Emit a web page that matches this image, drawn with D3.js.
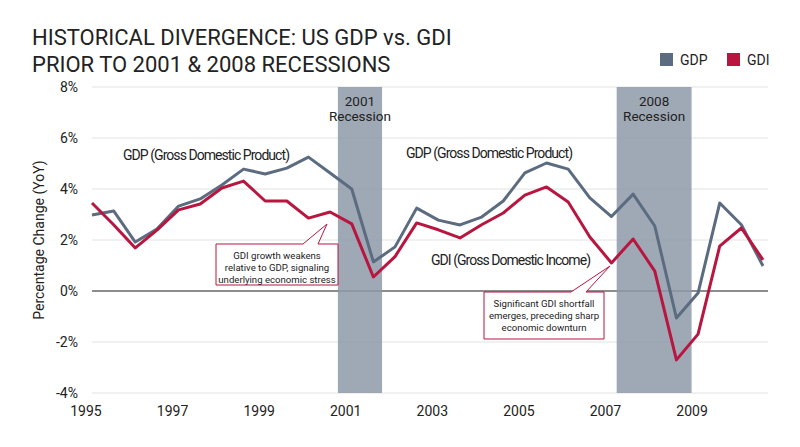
<!DOCTYPE html>
<html><head><meta charset="utf-8">
<script src="https://cdn.jsdelivr.net/npm/d3@7"></script>
<style>body{margin:0;background:#fff}text{font-family:Roboto,"Open Sans",sans-serif}</style>
</head><body><svg id="c" width="800" height="447"></svg>
<script>
const periods = d3.range(32).map(i => 1995 + i * 0.5);
const gdp = [2.98,3.14,1.92,2.43,3.33,3.61,4.16,4.78,4.59,4.82,5.25,4.63,4.0,1.14,1.73,3.25,2.78,2.59,2.9,3.53,4.63,5.02,4.78,3.65,2.92,3.8,2.55,-1.06,-0.08,3.45,2.6,0.98];
const gdi = [3.45,2.6,1.69,2.39,3.18,3.41,4.04,4.31,3.53,3.53,2.86,3.1,2.63,0.55,1.35,2.67,2.4,2.08,2.6,3.06,3.76,4.08,3.49,2.12,1.1,2.04,0.78,-2.7,-1.69,1.76,2.47,1.22];
const yTicks = [-4,-2,0,2,4,6,8];
const xTicks = [1995,1997,1999,2001,2003,2005,2007,2009];
const recessions = [{label:["2001","Recession"],from:2000.68,to:2001.7},{label:["2008","Recession"],from:2007.12,to:2008.85}];

const svg = d3.select("#c");
const x = d3.scaleLinear().domain([1995,2010.5]).range([92,763]);
const y = d3.scaleLinear().domain([-4,8]).range([393,87]);
const cG="#5b6b80", cI="#b8153f";

svg.append("text").attr("x",32).attr("y",45).attr("font-size",22).attr("fill","#222").text("HISTORICAL DIVERGENCE: US GDP vs. GDI");
svg.append("text").attr("x",32).attr("y",72).attr("font-size",22).attr("fill","#222").text("PRIOR TO 2001 & 2008 RECESSIONS");

[[cG,"GDP",660],[cI,"GDI",727]].forEach(([c,t,lx])=>{
  svg.append("rect").attr("x",lx).attr("y",53).attr("width",13).attr("height",13).attr("fill",c);
  svg.append("text").attr("x",lx+20).attr("y",64.5).attr("font-size",14).attr("fill","#222").text(t);
});

svg.append("g").selectAll("line").data(yTicks).join("line")
  .attr("x1",92).attr("x2",768).attr("y1",d=>y(d)).attr("y2",d=>y(d))
  .attr("stroke",d=>d===0?"#666":"#e2e2e2").attr("stroke-width",d=>d===0?1.5:1);
svg.append("g").selectAll("text").data(yTicks).join("text")
  .attr("x",78).attr("y",d=>y(d)+5).attr("text-anchor","end").attr("font-size",14).attr("fill","#222").text(d=>d+"%");
svg.append("text").attr("transform","translate(44,240) rotate(-90)").attr("text-anchor","middle").attr("font-size",14).attr("fill","#222").text("Percentage Change (YoY)");
svg.append("g").selectAll("text").data(xTicks).join("text")
  .attr("x",d=>x(d)-6).attr("y",416).attr("text-anchor","middle").attr("font-size",14).attr("fill","#222").text(d=>d);

recessions.forEach(r=>{
  svg.append("rect").attr("x",x(r.from)).attr("y",y(8)).attr("width",x(r.to)-x(r.from)).attr("height",y(-4)-y(8)).attr("fill","#8e9aa8").attr("opacity",0.85);
  const cx=(x(r.from)+x(r.to))/2;
  r.label.forEach((t,i)=>svg.append("text").attr("x",cx).attr("y",106+i*15).attr("text-anchor","middle").attr("font-size",13.5).attr("fill","#222").text(t));
});

const line=d3.line().x((d,i)=>x(periods[i])).y(d=>y(d));
svg.append("path").datum(gdp).attr("d",line).attr("fill","none").attr("stroke",cG).attr("stroke-width",3).attr("stroke-linejoin","round");
svg.append("path").datum(gdi).attr("d",line).attr("fill","none").attr("stroke",cI).attr("stroke-width",3).attr("stroke-linejoin","round");

svg.append("text").attr("x",123).attr("y",160).attr("font-size",14).attr("textLength",167).attr("fill","#222").text("GDP (Gross Domestic Product)");
svg.append("text").attr("x",406).attr("y",158).attr("font-size",14).attr("textLength",167).attr("fill","#222").text("GDP (Gross Domestic Product)");
svg.append("text").attr("x",431).attr("y",265).attr("font-size",14).attr("textLength",160).attr("fill","#222").text("GDI (Gross Domestic Income)");

function callout(bx,by,bw,bh,p1,p2,tip,lines){
  const pts=[[bx,by],[p1,by],tip,[p2,by],[bx+bw,by],[bx+bw,by+bh],[bx,by+bh]];
  svg.append("path").attr("d","M"+pts.join("L")+"Z").attr("fill","#fff").attr("stroke",cI).attr("stroke-width",1);
  lines.forEach((t,i)=>svg.append("text").attr("x",bx+bw/2).attr("y",by+15+i*12).attr("text-anchor","middle").attr("font-size",9.6).attr("fill","#222").text(t));
}
callout(216,244,122,41,303,318,[327,224],["GDI growth weakens","relative to GDP, signaling","underlying economic stress"]);
callout(484,292,120,47,571,586,[610,266],["Significant GDI shortfall","emerges, preceding sharp","economic downturn"]);
</script></body></html>
